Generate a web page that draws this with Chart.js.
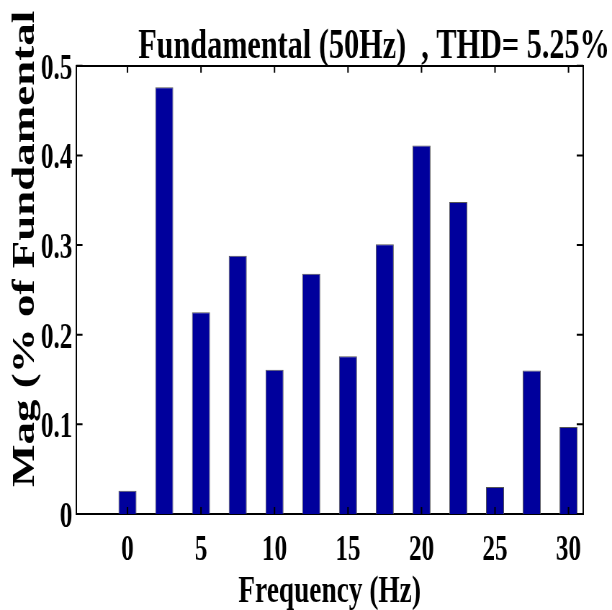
<!DOCTYPE html>
<html>
<head>
<meta charset="utf-8">
<script src="https://cdn.jsdelivr.net/npm/chart.js@4.4.1/dist/chart.umd.min.js"></script>
<style>
  html, body { margin: 0; padding: 0; background: #fff; overflow: hidden; }
  /* the source figure is squeezed sideways, so draw wide and squeeze the canvas */
  #myChart { transform: scaleX(0.72); transform-origin: 0 0; }
</style>
</head>
<body>
<canvas id="myChart" width="850" height="610"></canvas>
<script>
const freqs = [0, 2.5, 5, 7.5, 10, 12.5, 15, 17.5, 20, 22.5, 25, 27.5, 30];
const mags = [0.026, 0.476, 0.225, 0.288, 0.161, 0.268, 0.176, 0.301, 0.411, 0.348, 0.030, 0.160, 0.097];
const xTicks = [0, 5, 10, 15, 20, 25, 30];
const yTicks = [0, 0.1, 0.2, 0.3, 0.4, 0.5];
const titleText = "Fundamental (50Hz)  , THD= 5.25%";
const xLabel = "Frequency (Hz)";
const yLabel = "Mag (% of Fundamental";

const serif = "Liberation Serif";

// inward tick marks on all four sides + rotated y label
const innerTicks = {
   id: "innerTicks",
   afterDatasetsDraw(chart) {
      const { ctx, chartArea: a, scales } = chart;
      ctx.save();
      ctx.strokeStyle = "#000";
      ctx.lineWidth = 2;
      ctx.beginPath();
      xTicks.forEach((v) => {
         const px = scales.x.getPixelForValue(v);
         ctx.moveTo(px, a.bottom);
         ctx.lineTo(px, a.bottom - 7);
         ctx.moveTo(px, a.top);
         ctx.lineTo(px, a.top + 7);
      });
      yTicks.forEach((v) => {
         const py = scales.y.getPixelForValue(v);
         ctx.moveTo(a.left, py);
         ctx.lineTo(a.left + 9, py);
         ctx.moveTo(a.right, py);
         ctx.lineTo(a.right - 9, py);
      });
      ctx.stroke();
      ctx.translate(35, 487);
      ctx.rotate(-Math.PI / 2);
      ctx.font = "bold 45px '" + serif + "'";
      ctx.fillStyle = "#000";
      ctx.textAlign = "left";
      ctx.textBaseline = "middle";
      ctx.fillText(yLabel, 0, 0);
      ctx.restore();
   },
};

const ctx = document.getElementById("myChart").getContext("2d");
new Chart(ctx, {
   type: "bar",
   data: {
      datasets: [
         {
            data: freqs.map((f, i) => ({ x: f, y: mags[i] })),
            backgroundColor: "#00009C",
            borderColor: "#555555",
            borderWidth: 1,
            barPercentage: 0.49,
            categoryPercentage: 1,
         },
      ],
   },
   options: {
      responsive: false,
      devicePixelRatio: 1,
      animation: false,
      layout: { padding: { left: 0, right: 3, top: 0, bottom: 0 } },
      scales: {
         x: {
            type: "linear",
            min: -3.5,
            max: 31,
            offset: false,
            afterBuildTicks: (s) => {
               s.ticks = xTicks.map((v) => ({ value: v }));
            },
            afterFit: (s) => {
               s.height = 96;
            },
            grid: { display: false, drawTicks: false },
            border: { display: true, color: "#000", width: 2 },
            ticks: {
               color: "#000",
               padding: 16,
               maxRotation: 0,
               autoSkip: false,
               font: { family: serif, size: 35, weight: "bold" },
            },
            title: {
               display: true,
               text: xLabel,
               color: "#000",
               padding: 0,
               font: { family: serif, size: 38, weight: "bold", lineHeight: 0.95 },
            },
         },
         x2: {
            type: "linear",
            position: "top",
            afterFit: (s) => {
               s.height = 0;
            },
            ticks: { display: false },
            grid: { display: false, drawTicks: false },
            border: { display: true, color: "#000", width: 2 },
         },
         y: {
            min: 0,
            max: 0.5,
            afterBuildTicks: (s) => {
               s.ticks = yTicks.map((v) => ({ value: v }));
            },
            afterFit: (s) => {
               s.width = 105.6;
            },
            grid: { display: false, drawTicks: false },
            border: { display: true, color: "#000", width: 2 },
            ticks: {
               color: "#000",
               padding: 5,
               labelOffset: 4,
               font: { family: serif, size: 35, weight: "bold" },
            },
         },
         y2: {
            type: "linear",
            position: "right",
            afterFit: (s) => {
               s.width = 37;
            },
            ticks: { display: false },
            grid: { display: false, drawTicks: false },
            border: { display: true, color: "#000", width: 2 },
         },
      },
      plugins: {
         legend: { display: false },
         tooltip: { enabled: false },
         title: {
            display: true,
            text: titleText,
            align: "end",
            color: "#000",
            padding: { top: 28, bottom: 0 },
            font: { family: serif, size: 42, weight: "bold", lineHeight: 0.9 },
         },
      },
   },
   plugins: [innerTicks],
});
</script>
</body>
</html>
